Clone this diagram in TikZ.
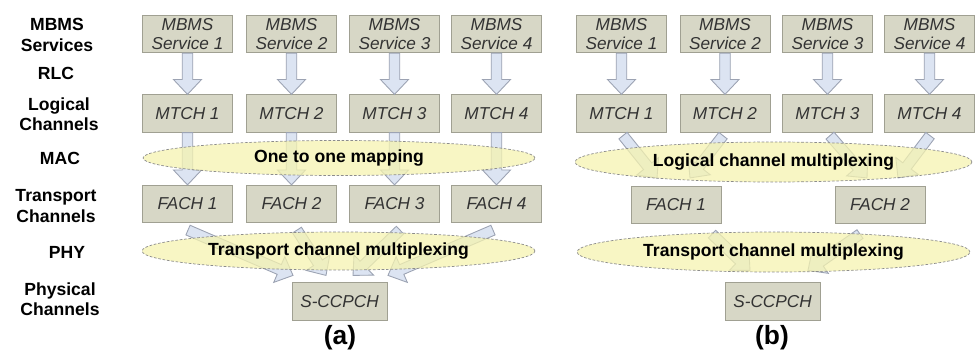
\documentclass[tikz,border=0pt]{standalone}
\usepackage{fontspec}
\setmainfont{Liberation Sans}
\usetikzlibrary{calc,shapes.geometric}

\definecolor{boxfill}{HTML}{D7D7C6}
\definecolor{boxline}{HTML}{A0A092}
\definecolor{boxtext}{HTML}{333333}
\definecolor{ellfill}{HTML}{F5F3B0}
\definecolor{ellline}{HTML}{8C8C8C}
\definecolor{arrfill}{HTML}{DCE4F2}
\definecolor{arrline}{HTML}{9CA3B3}

\tikzset{
  box/.style={draw=boxline, fill=boxfill, text=boxtext, inner sep=0pt, align=center,
    font=\itshape\fontsize{9.8}{10.8}\selectfont, minimum width=1.8cm, minimum height=0.75cm},
  lbl/.style={align=center, font=\bfseries\fontsize{10}{11.5}\selectfont},
  ellip/.style={ellipse, draw=ellline, dash pattern=on 1.5pt off 1pt, fill=ellfill,
    fill opacity=0.75, text opacity=1, inner sep=0pt, font=\bfseries\fontsize{10}{12}\selectfont},
  fatarr/.style={draw=arrline, fill=arrfill, line width=0.5pt},
  captext/.style={font=\bfseries\fontsize{15}{18}\selectfont}
}

% fat block arrow from #1 to #2
\def\fatsw{3pt}
\def\fathw{8pt}
\def\fathl{8.5pt}
\newcommand{\fatarrow}[2]{%
  \draw[fatarr] let \p1=($(#2)-(#1)$), \n1={atan2(\y1,\x1)}, \n2={veclen(\x1,\y1)} in
    ($(#1)+(\n1+90:\fatsw)$) -- ++(\n1:\n2-\fathl) -- ++(\n1+90:\fathw-\fatsw) -- (#2)
    -- ($(#2)+(\n1+180:\fathl)+(\n1-90:\fathw)$) -- ++(\n1+90:\fathw-\fatsw)
    -- ($(#1)+(\n1-90:\fatsw)$) -- cycle;}

\begin{document}
\begin{tikzpicture}[x=0.02cm, y=-0.02cm]
\useasboundingbox (0,0) rectangle (975,352);

% layer names
\node [lbl] (lsvc) at (57,35) {MBMS\\Services};
\node [lbl] (lrlc) at (56,73) {RLC};
\node [lbl] (llog) at (59,114) {Logical\\Channels};
\node [lbl] (lmac) at (60,158) {MAC};
\node [lbl] (ltrp) at (56,206) {Transport\\Channels};
\node [lbl] (lphy) at (67,252) {PHY};
\node [lbl] (lphs) at (60,299) {Physical\\Channels};

% (a)
\node [box] (s1a) at (187.5,34) {MBMS\\Service 1};
\node [box] (s2a) at (291.5,34) {MBMS\\Service 2};
\node [box] (s3a) at (394.5,34) {MBMS\\Service 3};
\node [box] (s4a) at (496.5,34) {MBMS\\Service 4};
\node [box] (m1a) at (187.5,113.5) {MTCH 1};
\node [box] (m2a) at (291.5,113.5) {MTCH 2};
\node [box] (m3a) at (394.5,113.5) {MTCH 3};
\node [box] (m4a) at (496.5,113.5) {MTCH 4};
\node [box] (f1a) at (187.5,204) {FACH 1};
\node [box] (f2a) at (291.5,204) {FACH 2};
\node [box] (f3a) at (394.5,204) {FACH 3};
\node [box] (f4a) at (496.5,204) {FACH 4};
\node [box, minimum width=1.9cm] (pa) at (339.5,301.5) {S-CCPCH};

\coordinate (fa1) at ($(f1a.south)+(0.5,7)$);
\coordinate (fa2) at ($(f2a.south)+(5.5,7)$);
\coordinate (fa3) at ($(f3a.south)+(5.5,7)$);
\coordinate (fa4) at ($(f4a.south)+(-3.5,7)$);
\coordinate (ta1) at ($(pa.north)+(-46.5,-7)$);
\coordinate (ta2) at ($(pa.north)+(-13.5,-7)$);
\coordinate (ta3) at ($(pa.north)+(13.5,-7)$);
\coordinate (ta4) at ($(pa.north)+(48.5,-7)$);

\fatarrow{s1a.south}{m1a.north}
\fatarrow{s2a.south}{m2a.north}
\fatarrow{s3a.south}{m3a.north}
\fatarrow{s4a.south}{m4a.north}
\fatarrow{m1a.south}{f1a.north}
\fatarrow{m2a.south}{f2a.north}
\fatarrow{m3a.south}{f3a.north}
\fatarrow{m4a.south}{f4a.north}
\fatarrow{fa1}{ta1}
\fatarrow{fa2}{ta2}
\fatarrow{fa3}{ta3}
\fatarrow{fa4}{ta4}

\node [ellip, minimum width=7.84cm, minimum height=0.7cm] (maca) at (339,158) {One to one mapping};
\node [ellip, minimum width=7.86cm, minimum height=0.76cm] (phya) at (338.5,251) {Transport channel multiplexing};
\node [captext] (capa) at (340,338) {(a)};

% (b)
\node [box] (s1b) at (621.5,34) {MBMS\\Service 1};
\node [box] (s2b) at (725,34) {MBMS\\Service 2};
\node [box] (s3b) at (827.5,34) {MBMS\\Service 3};
\node [box] (s4b) at (929.5,34) {MBMS\\Service 4};
\node [box] (m1b) at (621.5,113.5) {MTCH 1};
\node [box] (m2b) at (725,113.5) {MTCH 2};
\node [box] (m3b) at (827.5,113.5) {MTCH 3};
\node [box] (m4b) at (929.5,113.5) {MTCH 4};
\node [box] (f1b) at (676,205) {FACH 1};
\node [box] (f2b) at (880,205) {FACH 2};
\node [box, minimum width=1.9cm] (pb) at (772.5,301.5) {S-CCPCH};

\coordinate (mb1) at ($(m1b.south)+(1.5,3)$);
\coordinate (mb2) at ($(m2b.south)+(-2,3)$);
\coordinate (mb3) at ($(m3b.south)+(2.5,3)$);
\coordinate (mb4) at ($(m4b.south)+(0.5,3)$);
\coordinate (tb1) at ($(f1b.north)+(-19,-8)$);
\coordinate (tb2) at ($(f1b.north)+(14,-8)$);
\coordinate (tb3) at ($(f2b.north)+(-13,-8)$);
\coordinate (tb4) at ($(f2b.north)+(18,-8)$);
\coordinate (fb1) at ($(f1b.south)+(36,10)$);
\coordinate (fb2) at ($(f2b.south)+(-20,10)$);
\coordinate (tp1) at ($(pb.north)+(-22.5,-12)$);
\coordinate (tp2) at ($(pb.north)+(35.5,-12)$);

\fatarrow{s1b.south}{m1b.north}
\fatarrow{s2b.south}{m2b.north}
\fatarrow{s3b.south}{m3b.north}
\fatarrow{s4b.south}{m4b.north}
\fatarrow{mb1}{tb1}
\fatarrow{mb2}{tb2}
\fatarrow{mb3}{tb3}
\fatarrow{mb4}{tb4}
\fatarrow{fb1}{tp1}
\fatarrow{fb2}{tp2}

\node [ellip, minimum width=7.94cm, minimum height=0.8cm] (macb) at (773.5,162) {Logical channel multiplexing};
\node [ellip, minimum width=7.86cm, minimum height=0.8cm] (phyb) at (773.5,252) {Transport channel multiplexing};
\node [captext] (capb) at (772,338) {(b)};
\end{tikzpicture}
\end{document}
